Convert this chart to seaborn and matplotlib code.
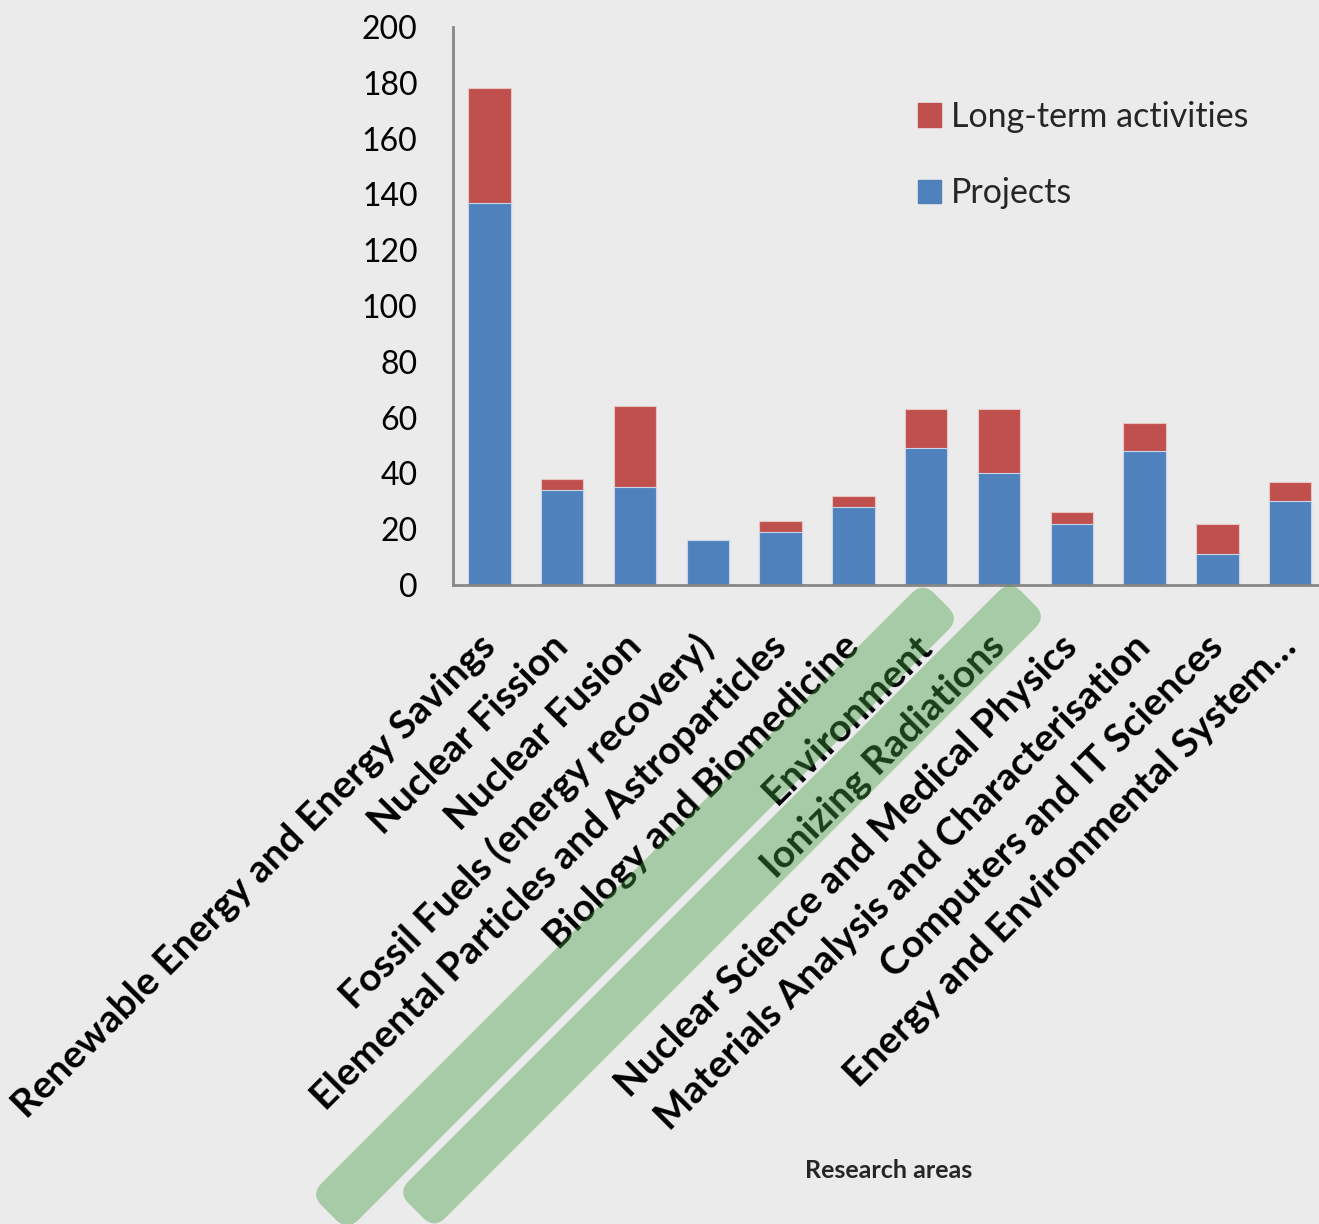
import numpy as np
import pandas as pd
import matplotlib
matplotlib.use('Agg')
import matplotlib.pyplot as plt
import seaborn as sns
from matplotlib.patches import FancyBboxPatch, Patch
from matplotlib.transforms import Affine2D

# ── Data ─────────────────────────────────────────────────────
AREAS = [
    'Renewable Energy and Energy Savings', 'Nuclear Fission', 'Nuclear Fusion',
    'Fossil Fuels (energy recovery)', 'Elemental Particles and Astroparticles',
    'Biology and Biomedicine', 'Environment', 'Ionizing Radiations',
    'Nuclear Science and Medical Physics', 'Materials Analysis and Characterisation',
    'Computers and IT Sciences', 'Energy and Environmental System\u2026'
]
PROJECTS  = [137, 34, 35, 16, 19, 28, 49, 40, 22, 48, 11, 30]
LONG_TERM = [41, 4, 29, 0, 4, 4, 14, 23, 4, 10, 11, 7]
Y_TICKS   = [0, 20, 40, 60, 80, 100, 120, 140, 160, 180, 200]
SERIES    = ['Long-term activities', 'Projects']

df = pd.DataFrame({'area': AREAS, 'projects': PROJECTS, 'long_term': LONG_TERM})
df['total'] = df['projects'] + df['long_term']

BLUE, RED = '#4F81BD', '#C0504D'
BG = '#EBEBEB'
GREY = '#868686'

sns.set_style('white', rc={'axes.facecolor': BG, 'figure.facecolor': BG,
                           'axes.grid': False})
plt.rcParams['font.family'] = ['Lato', 'DejaVu Sans']

# ── Figure (pixel layout) ────────────────────────────────────
W, H = 1319, 1224
fig = plt.figure(figsize=(W / 100, H / 100), dpi=100)
ax = fig.add_axes([453 / W, 1 - 585 / H, 873.6 / W, 558 / H])

# stacked bars: total in red behind, projects in blue in front
sns.barplot(data=df, x='area', y='total', color=RED, saturation=1,
            width=0.58, edgecolor='#E8C4C3', linewidth=0.8, ax=ax)
sns.barplot(data=df, x='area', y='projects', color=BLUE, saturation=1,
            width=0.58, edgecolor='#C9D6EA', linewidth=0.8, ax=ax)

ax.set_xlim(-0.5, len(AREAS) - 0.5)
ax.set_ylim(0, 200)
ax.set_yticks(Y_TICKS)
ax.set_xlabel('')
ax.set_ylabel('')

for side in ['top', 'right']:
    ax.spines[side].set_visible(False)
for side in ['left', 'bottom']:
    ax.spines[side].set_color(GREY)
    ax.spines[side].set_linewidth(2)

ax.tick_params(axis='y', direction='out', length=9.5, width=1.4, color=GREY,
               pad=16, labelsize=23, labelcolor='black')
ax.tick_params(axis='x', length=0, pad=40, labelsize=28, labelcolor='black')
plt.setp(ax.get_xticklabels(), rotation=45, ha='right', va='center',
         rotation_mode='anchor', fontweight='bold')

# ── Legend ───────────────────────────────────────────────────
handles = [Patch(color=RED, label=SERIES[0]), Patch(color=BLUE, label=SERIES[1])]
ax.legend(handles=handles, loc='upper left', bbox_to_anchor=(918 / W, 1 - 101 / H),
          bbox_transform=fig.transFigure, frameon=False, fontsize=24.5,
          handlelength=0.68, handleheight=0.68, handletextpad=0.3,
          labelspacing=1.3, borderpad=0, borderaxespad=0)

fig.text(889 / W, 1 - 1171 / H, 'Research areas', ha='center', va='center',
         fontsize=18, fontweight='bold')

# ── Green highlight bands over two labels ────────────────────
to_fig = Affine2D().scale(1 / W, 1 / H) + fig.transFigure
band_len, band_w = 866, 52
for cx, cy in [(635, H - 906.5), (722, H - 904.5)]:
    band = FancyBboxPatch((-band_len / 2, -band_w / 2), band_len, band_w,
                          boxstyle='round,pad=0,rounding_size=16',
                          facecolor=(65 / 255, 155 / 255, 65 / 255), alpha=0.4,
                          edgecolor='none',
                          transform=Affine2D().rotate_deg(45).translate(cx, cy) + to_fig,
                          zorder=10)
    fig.add_artist(band)

fig.savefig('out.png', dpi=100, facecolor=fig.get_facecolor())
